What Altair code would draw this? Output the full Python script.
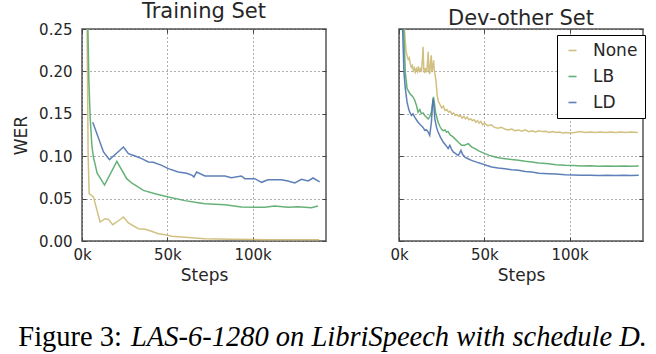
import altair as alt
import pandas as pd

series = ["None", "LB", "LD"]
colors = ["#ccb974", "#55a868", "#4c72b0"]
panel_titles = ["Training Set", "Dev-other Set"]
x_tick_values = [0, 50000, 100000]
y_tick_values = [0.0, 0.05, 0.10, 0.15, 0.20, 0.25]
caption_parts = ["Figure 3:", "LAS-6-1280 on LibriSpeech with schedule D."]

# ---------------- Training set ----------------
train_none_steps = [2800, 3600, 4200, 6700, 10600, 13500, 15500, 18000, 20400, 24300, 27200,
                    33000, 37000, 40800, 44700, 48600, 52500, 60300, 72000, 87600, 107000, 139000]
train_none_wer = [0.30, 0.10, 0.056, 0.052, 0.0224, 0.0263, 0.0255, 0.0193, 0.0224, 0.0283, 0.0212,
                  0.0145, 0.0138, 0.0114, 0.0086, 0.0075, 0.0055, 0.0043, 0.0028, 0.0020, 0.0016, 0.0015]

train_lb_steps = [3200, 4000, 4800, 5800, 6700, 8900, 13200, 20400, 26200, 29100, 36000, 42800,
                  50600, 60300, 68100, 72000, 83700, 93400, 107000, 113000, 120700, 126600, 134400, 138300]
train_lb_wer = [0.28, 0.19, 0.145, 0.112, 0.099, 0.080, 0.066, 0.094, 0.0735, 0.0684, 0.0597, 0.0558,
                0.0519, 0.0476, 0.0452, 0.0440, 0.0428, 0.0400, 0.0397, 0.0413, 0.0397, 0.0405, 0.0393, 0.0413]

train_ld_steps = [6300, 12600, 16100, 24300, 27200, 31100, 35000, 38900, 41800, 46700, 50600, 56400,
                  61300, 64600, 65600, 67200, 72000, 83700, 87600, 93400, 95400, 101300, 105200, 109000,
                  116800, 120700, 124700, 128600, 132500, 135400, 139300]
train_ld_wer = [0.140, 0.105, 0.0959, 0.1108, 0.103, 0.1002, 0.0971, 0.0932, 0.0928, 0.0892, 0.0853, 0.0814,
                0.0798, 0.0774, 0.0755, 0.0814, 0.0767, 0.0767, 0.0747, 0.0767, 0.0735, 0.0735, 0.0692, 0.0723,
                0.0723, 0.0708, 0.0684, 0.0727, 0.0708, 0.0743, 0.0696]

# ---------------- Dev-other set ----------------
dev_none_steps = [2500, 3200, 3800, 4300, 4800, 5400, 6000, 6600, 7200, 7800, 8400, 9000, 9600, 10200,
                  10800, 11400, 12000, 12600, 13200, 13700, 14100, 14500, 15000, 15600, 16200, 16700,
                  17100, 17500, 18000, 18500, 18900, 19300, 19800, 20300, 20700, 21200, 21800, 22400,
                  23000, 24000, 25000, 26000, 27000, 28000, 29000, 30000, 31000, 32000, 33000, 34000,
                  35000, 36000, 37000, 38000, 39000, 40000, 41000, 42000, 43000, 44000, 45000, 46000,
                  47000, 48000, 49000, 50000, 52000, 54000, 56000, 58000, 60000, 62000, 64000, 66000,
                  68000, 70000, 72000, 74000, 76000, 78000, 80000, 82000, 84000, 86000, 88000, 90000,
                  92000, 94000, 96000, 98000, 100000, 103000, 106000, 109000, 112000, 115000, 118000,
                  121000, 124000, 127000, 130000, 133000, 136000, 140000]
dev_none_wer = [0.30, 0.25, 0.232, 0.222, 0.218, 0.214, 0.216, 0.209, 0.205, 0.207, 0.201, 0.204, 0.199, 0.203,
                0.200, 0.206, 0.199, 0.203, 0.201, 0.214, 0.229, 0.203, 0.198, 0.204, 0.199, 0.210,
                0.223, 0.200, 0.197, 0.212, 0.219, 0.199, 0.206, 0.213, 0.200, 0.196, 0.186, 0.172,
                0.165, 0.161, 0.157, 0.159, 0.154, 0.155, 0.152, 0.153, 0.150, 0.151, 0.148, 0.149,
                0.147, 0.148, 0.145, 0.147, 0.144, 0.146, 0.143, 0.144, 0.142, 0.143, 0.140, 0.142,
                0.139, 0.141, 0.137, 0.139, 0.136, 0.137, 0.134, 0.133, 0.134, 0.132, 0.131, 0.132,
                0.130, 0.131, 0.1295, 0.131, 0.129, 0.130, 0.1285, 0.130, 0.129, 0.1295, 0.128, 0.129,
                0.128, 0.1285, 0.1275, 0.128, 0.1275, 0.128, 0.129, 0.128, 0.1285, 0.128, 0.1285,
                0.128, 0.1285, 0.128, 0.1285, 0.128, 0.1285, 0.128]

dev_lb_steps = [2400, 3700, 4700, 5500, 6300, 7200, 8200, 9200, 10200, 11200, 12200, 13100, 14100, 15100,
                16100, 17100, 18100, 19000, 19700, 20200, 20800, 21400, 22900, 24000, 24900, 26000, 27000,
                27800, 28800, 30000, 31500, 32700, 34500, 36700, 38500, 40600, 42500, 44500, 47000, 50400,
                53000, 56300, 59000, 62100, 66000, 70000, 74000, 77800, 82000, 87600, 92000, 97400, 102000,
                107000, 112000, 117000, 122000, 127000, 132000, 136000, 140500]
dev_lb_wer = [0.27, 0.199, 0.180, 0.177, 0.174, 0.172, 0.170, 0.166, 0.160, 0.152, 0.155, 0.150, 0.151, 0.148,
              0.146, 0.144, 0.147, 0.152, 0.162, 0.170, 0.162, 0.152, 0.140, 0.135, 0.132, 0.130, 0.131,
              0.1285, 0.129, 0.125, 0.123, 0.1207, 0.117, 0.1128, 0.113, 0.1148, 0.111, 0.1089, 0.106, 0.103,
              0.101, 0.099, 0.098, 0.0971, 0.096, 0.0951, 0.094, 0.0932, 0.092, 0.0912, 0.090, 0.0892, 0.089,
              0.0884, 0.0886, 0.0882, 0.0885, 0.0881, 0.0884, 0.0882, 0.0884]

dev_ld_steps = [1800, 2900, 3700, 4700, 5500, 6300, 7300, 8200, 9200, 10200, 11200, 12100, 13100, 14100,
                15100, 16100, 17100, 18000, 19000, 19600, 20000, 20500, 21000, 22000, 22900, 24400, 25900,
                27400, 28800, 29800, 30800, 31800, 33200, 34700, 35600, 36300, 37300, 38600, 40500, 42500,
                45500, 48400, 51500, 54300, 58000, 62100, 66000, 70000, 74000, 77800, 82000, 87600, 92000,
                97400, 102000, 107000, 112000, 117000, 122000, 127000, 132000, 136000, 140500]
dev_ld_wer = [0.27, 0.199, 0.180, 0.164, 0.157, 0.152, 0.148, 0.150, 0.146, 0.143, 0.140, 0.138, 0.136, 0.134,
              0.1305, 0.131, 0.1285, 0.1246, 0.140, 0.160, 0.168, 0.158, 0.144, 0.134, 0.1285, 0.122, 0.1167,
              0.113, 0.1089, 0.1128, 0.108, 0.105, 0.103, 0.101, 0.104, 0.1069, 0.102, 0.099, 0.097, 0.0951,
              0.093, 0.0912, 0.089, 0.0873, 0.086, 0.0853, 0.084, 0.0833, 0.082, 0.0814, 0.080, 0.0794, 0.079,
              0.0782, 0.0778, 0.0774, 0.0776, 0.0772, 0.0775, 0.0773, 0.0775, 0.0772, 0.0774]


def long_frame(parts):
    frames = []
    for name, steps, wer in parts:
        frames.append(pd.DataFrame({"steps": steps, "wer": wer, "series": name}))
    return pd.concat(frames, ignore_index=True)


train_df = long_frame([("None", train_none_steps, train_none_wer),
                       ("LB", train_lb_steps, train_lb_wer),
                       ("LD", train_ld_steps, train_ld_wer)])
dev_df = long_frame([("None", dev_none_steps, dev_none_wer),
                     ("LB", dev_lb_steps, dev_lb_wer),
                     ("LD", dev_ld_steps, dev_ld_wer)])

X_MAX = 143000
PANEL_W = 244
PANEL_H = 212
TEXT = "#262626"
SANS = "DejaVu Sans"
X_SCALE = alt.Scale(domain=[0, X_MAX], nice=False, zero=False)
Y_SCALE = alt.Scale(domain=[0, 0.25], nice=False)
TICK_LEN = 4


def inner_tick_layer(df, x_orient, y_orient):
    # invisible anchor point; its axes draw short inward ticks on the frame
    anchor = df.iloc[[len(df) - 1]]
    tick_style = dict(offset=-TICK_LEN, tickSize=TICK_LEN, ticks=True, labels=False, grid=False,
                      domain=False, title=None, tickColor="#444444", tickWidth=1)
    return alt.Chart(anchor).mark_point(opacity=0, clip=True).encode(
        x=alt.X("steps:Q", scale=X_SCALE,
                axis=alt.Axis(orient=x_orient, values=x_tick_values, **tick_style)),
        y=alt.Y("wer:Q", scale=Y_SCALE,
                axis=alt.Axis(orient=y_orient, values=y_tick_values, **tick_style)),
    )


def panel(df, title, show_y_labels, show_legend, extra_layers=()):
    if show_legend:
        legend = alt.Legend(title=None, orient="none", legendX=158, legendY=6,
                            symbolType="stroke", symbolSize=64, symbolStrokeWidth=1.6,
                            labelFont=SANS, labelFontSize=17, labelColor=TEXT, labelOffset=12,
                            rowPadding=8, padding=7, strokeColor="black", fillColor="white",
                            cornerRadius=0)
    else:
        legend = None
    y_axis = alt.Axis(values=y_tick_values, format=".2f", title="WER" if show_y_labels else None,
                      labels=show_y_labels, labelPadding=10, titlePadding=8, orient="left")
    lines = alt.Chart(df).mark_line(clip=True, strokeWidth=1.5, opacity=0.9).encode(
        x=alt.X("steps:Q", scale=X_SCALE,
                axis=alt.Axis(values=x_tick_values, labelExpr="datum.value / 1000 + 'k'",
                              title="Steps", labelPadding=6, titlePadding=5, labelFlush=False,
                              orient="bottom")),
        y=alt.Y("wer:Q", scale=Y_SCALE, axis=y_axis),
        color=alt.Color("series:N", scale=alt.Scale(domain=series, range=colors), legend=legend),
    )
    layers = [lines, inner_tick_layer(df, "bottom", "left"), inner_tick_layer(df, "top", "right")]
    layers.extend(extra_layers)
    return alt.layer(*layers).resolve_axis(x="independent", y="independent").properties(
        width=PANEL_W, height=PANEL_H,
        title=alt.TitleParams(title, font=SANS, fontSize=21, fontWeight="normal", color=TEXT, offset=0),
    )


cap_df = pd.DataFrame({"t": [caption_parts[0]]})
cap_it_df = pd.DataFrame({"t": [caption_parts[1]]})
cap_regular = alt.Chart(cap_df).mark_text(font="Liberation Serif", fontSize=28.5, align="right",
                                          baseline="alphabetic", color="black").encode(
    text="t:N", x=alt.value(40), y=alt.value(317))
cap_italic = alt.Chart(cap_it_df).mark_text(font="Liberation Serif", fontSize=28.5, fontStyle="italic",
                                            align="right", baseline="alphabetic", color="black").encode(
    text="t:N", x=alt.value(565), y=alt.value(317))

left = panel(train_df, panel_titles[0], True, False, extra_layers=(cap_regular, cap_italic))
right = panel(dev_df, panel_titles[1], False, True)

chart = alt.hconcat(left, right, spacing=73, bounds="flush").resolve_scale(
    color="independent").resolve_legend(color="independent").properties(
    padding={"left": 11, "top": 0, "right": 0, "bottom": 0},
    background="white",
).configure_view(stroke="#555555", strokeWidth=1.5).configure_axis(
    labelFont=SANS, labelFontSize=15, labelColor=TEXT,
    titleFont=SANS, titleFontSize=17, titleFontWeight="normal", titleColor=TEXT,
    domain=False, ticks=False, grid=True, gridColor="#333333", gridDash=[1, 3], gridWidth=0.8,
)

chart.save("out.html", embed_options={"renderer": "svg", "actions": False})
